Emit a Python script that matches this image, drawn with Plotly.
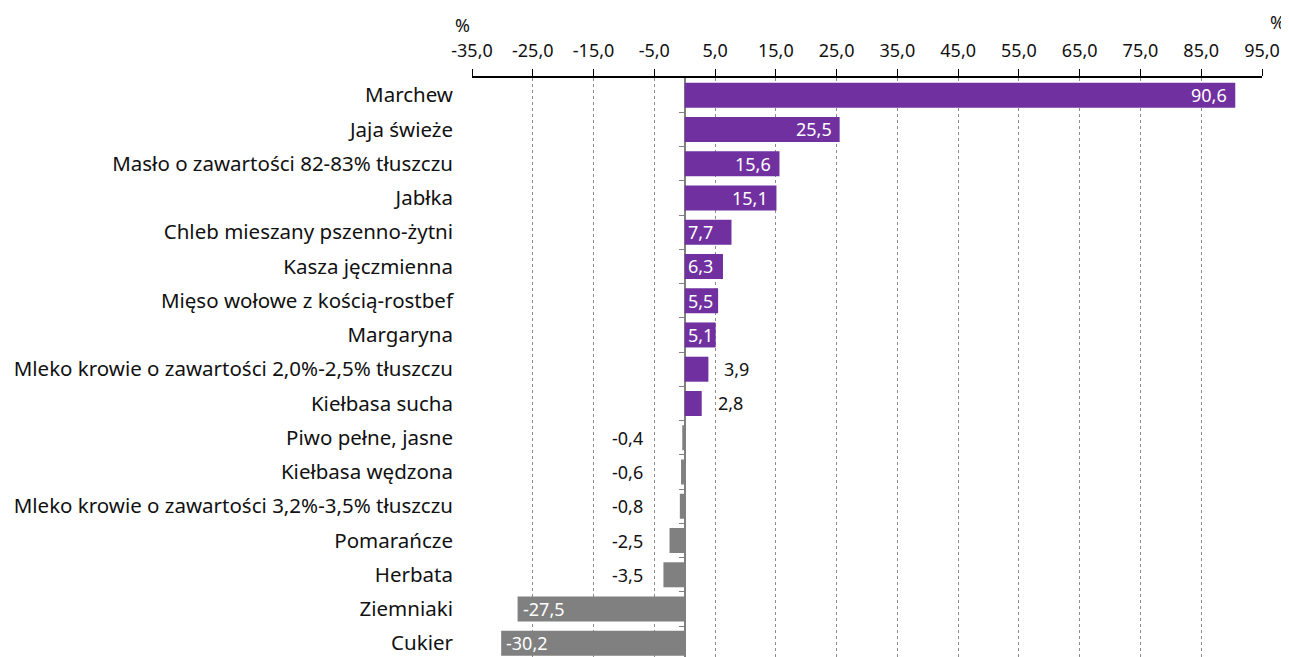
import plotly.graph_objects as go

categories = [
    "Marchew", "Jaja świeże", "Masło o zawartości 82-83% tłuszczu", "Jabłka",
    "Chleb mieszany pszenno-żytni", "Kasza jęczmienna", "Mięso wołowe z kością-rostbef",
    "Margaryna", "Mleko krowie o zawartości 2,0%-2,5% tłuszczu", "Kiełbasa sucha",
    "Piwo pełne, jasne", "Kiełbasa wędzona", "Mleko krowie o zawartości 3,2%-3,5% tłuszczu",
    "Pomarańcze", "Herbata", "Ziemniaki", "Cukier",
]
values = [90.6, 25.5, 15.6, 15.1, 7.7, 6.3, 5.5, 5.1, 3.9, 2.8,
          -0.4, -0.6, -0.8, -2.5, -3.5, -27.5, -30.2]

x_ticks = [-35, -25, -15, -5, 5, 15, 25, 35, 45, 55, 65, 75, 85, 95]

PURPLE = "#7030A0"
GRAY = "#808080"
FONT = "Noto Sans"
TXT = "#111111"

def fmt(v):
    return f"{v:.1f}".replace(".", ",")

x_min, x_max = x_ticks[0], x_ticks[-1]
colors = [PURPLE if v >= 0 else GRAY for v in values]

fig = go.Figure()
fig.add_trace(go.Bar(
    x=values, y=categories, orientation="h",
    marker=dict(color=colors, line=dict(width=0)),
    width=0.73, hoverinfo="skip",
))
# invisible helper trace for the zero-line tick axis
fig.add_trace(go.Scatter(x=[None], y=[None], yaxis="y2", showlegend=False))

annotations = []
for c, v in zip(categories, values):
    if v >= 10:
        a = dict(x=v, xanchor="right", xshift=-6, color="white")
    elif v >= 5:
        a = dict(x=0, xanchor="left", xshift=1, color="white")
    elif v >= 0:
        a = dict(x=v, xanchor="left", xshift=14, color=TXT)
    elif v > -10:
        a = dict(x=0, xanchor="right", xshift=-40, color=TXT)
    else:
        a = dict(x=v, xanchor="left", xshift=3, color="white")
    annotations.append(dict(x=a["x"], y=c, text=fmt(v), xanchor=a["xanchor"], xshift=a["xshift"],
                            showarrow=False, font=dict(color=a["color"], size=18, family=FONT)))

annotations.append(dict(x=x_min, xref="x", y=1.092, yref="paper", yanchor="middle", text="%",
                        showarrow=False, xanchor="center", xshift=-10,
                        font=dict(size=18, family=FONT, color=TXT)))
annotations.append(dict(x=x_max, xref="x", y=1.097, yref="paper", yanchor="middle", text="%",
                        showarrow=False, xanchor="center", xshift=15,
                        font=dict(size=18, family=FONT, color=TXT)))

n = len(categories)
fig.update_layout(
    width=1281, height=649,
    margin=dict(l=464, r=27, t=70, b=0),
    paper_bgcolor="white", plot_bgcolor="white",
    showlegend=False,
    font=dict(family=FONT, size=18, color=TXT),
    annotations=annotations,
    xaxis=dict(
        side="top", range=[x_min, x_max], tickmode="array",
        tickvals=x_ticks, ticktext=[fmt(t) for t in x_ticks],
        showline=True, linecolor="black", linewidth=2, mirror=False,
        ticks="outside", ticklen=7, tickcolor="black", tickwidth=1,
        ticklabelstandoff=5,
        showgrid=True, gridcolor="#8c8c8c", griddash="dot", gridwidth=1,
        zeroline=True, zerolinecolor=GRAY, zerolinewidth=2,
        tickfont=dict(size=18, family=FONT, color=TXT),
        automargin=False, fixedrange=True,
    ),
    yaxis=dict(
        type="category", categoryorder="array", categoryarray=categories,
        range=[n - 0.6, -0.5], showgrid=False, showline=False, ticks="",
        ticklabelstandoff=18, tickfont=dict(size=20.5, family=FONT, color=TXT),
        automargin=False, fixedrange=True,
    ),
    yaxis2=dict(
        overlaying="y", anchor="free", side="left",
        position=(0 - x_min) / (x_max - x_min),
        range=[n - 0.6, -0.5], tickmode="array",
        tickvals=[i + 0.5 for i in range(n - 1)],
        ticks="outside", ticklen=6, tickcolor=GRAY, tickwidth=1,
        showticklabels=False, showgrid=False, showline=False, zeroline=False,
        automargin=False, fixedrange=True,
    ),
)

fig.write_html("out.html")
